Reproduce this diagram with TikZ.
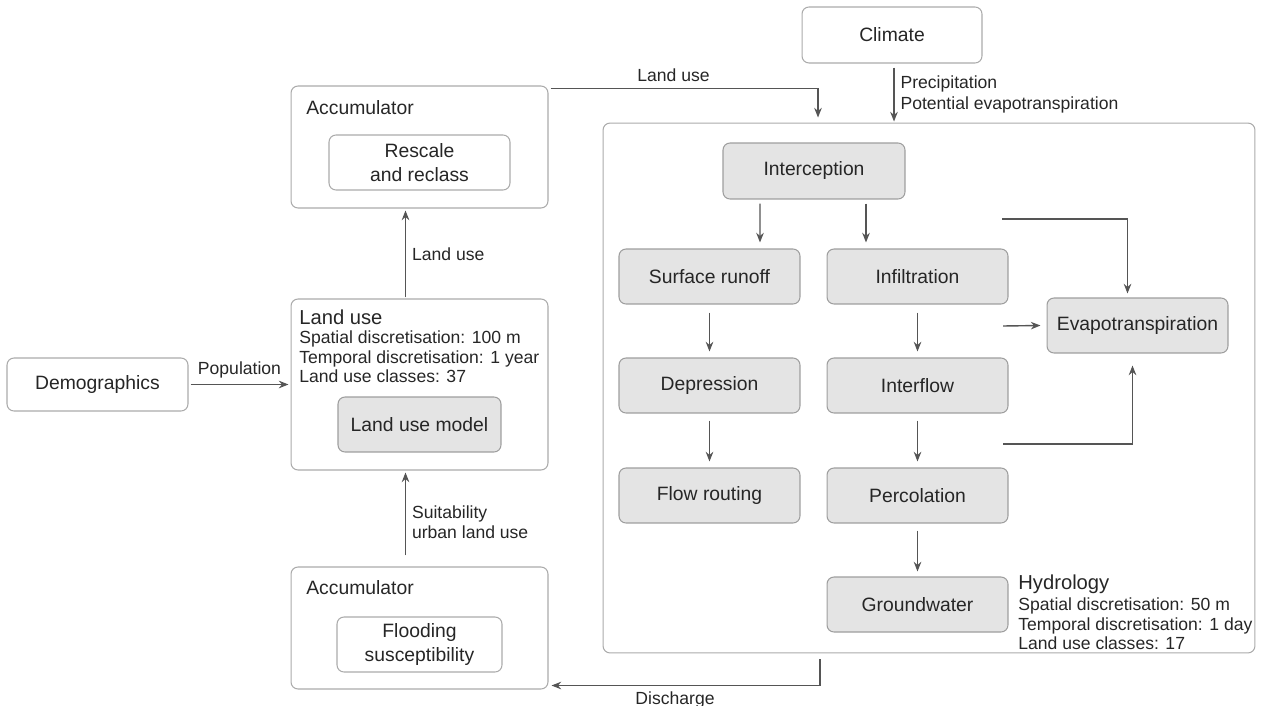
\documentclass[tikz,border=0pt]{standalone}
\usepackage{fontspec}
\setmainfont{Liberation Sans}
\usetikzlibrary{arrows.meta,calc}
\definecolor{framegray}{HTML}{ABABAB}
\definecolor{procfill}{HTML}{E4E4E4}
\definecolor{procline}{HTML}{9E9E9E}
\definecolor{linkgray}{HTML}{555555}
\definecolor{inkgray}{HTML}{262626}
\tikzset{
  outerbox/.style={draw=framegray, rounded corners=0.14cm, line width=0.6pt, inner sep=0pt},
  proc/.style={draw=procline, fill=procfill, rounded corners=0.14cm, line width=0.6pt,
    minimum width=3.62cm, minimum height=1.1cm, align=center,
    font=\fontsize{11}{13.6}\selectfont, text=inkgray},
  whitebox/.style={proc, fill=white, draw=framegray},
  arrowline/.style={->, draw=linkgray, line width=0.8pt},
  lbl/.style={font=\fontsize{10}{11.5}\selectfont, text=inkgray, align=left},
  headtext/.style={font=\fontsize{11.5}{13}\selectfont, text=inkgray, anchor=west, inner sep=0pt},
  spec/.style={font=\fontsize{10}{11.2}\selectfont, text=inkgray, anchor=west, inner sep=0pt, align=left},
}
\begin{document}
\begin{tikzpicture}[x=0.02cm, y=-0.02cm, >={Stealth[length=5.5pt,width=4.3pt]}]
\useasboundingbox (0,0) rectangle (1261,706);

% left column
\node[whitebox, minimum width=3.62cm, minimum height=1.06cm] (demo) at (97.5,384.5) {Demographics};
\node[outerbox, minimum width=5.14cm, minimum height=2.44cm] (acctop) at (419.5,147) {};
\node[headtext, font=\fontsize{11}{13}\selectfont] (acctoptxt) at (306,108) {Accumulator};
\node[whitebox] (rescale) at (419.5,162.5) {Rescale\\and reclass};
\node[outerbox, minimum width=5.14cm, minimum height=3.42cm] (luouter) at (419.5,384.5) {};
\node[headtext] (lutitle) at (299,317) {Land use};
\node[spec] (luspec) at (299,357) {Spatial discretisation: 100 m\\Temporal discretisation: 1 year\\Land use classes: 37};
\node[proc, minimum width=3.26cm] (lumodel) at (419.5,424.5) {Land use model};
\node[outerbox, minimum width=5.14cm, minimum height=2.44cm] (accbot) at (419.5,628) {};
\node[headtext, font=\fontsize{11}{13}\selectfont] (accbottxt) at (306,588) {Accumulator};
\node[whitebox, minimum width=3.3cm] (flood) at (419.5,644.5) {Flooding\\susceptibility};

% hydrology
\node[whitebox, minimum width=3.6cm, minimum height=1.12cm] (clim) at (892,35) {Climate};
\node[outerbox, minimum width=13.04cm, minimum height=10.6cm] (hydro) at (929,388) {};
\node[proc, minimum width=3.64cm, minimum height=1.12cm] (intc) at (814,171) {Interception};
\node[proc] (runoff) at (709.5,276.5) {Surface runoff};
\node[proc] (infil) at (917.5,276.5) {Infiltration};
\node[proc] (evap) at (1137.5,325.5) {Evapotranspiration};
\node[proc] (depr) at (709.5,385.5) {Depression};
\node[proc] (intf) at (917.5,385.5) {Interflow};
\node[proc] (flow) at (709.5,495.5) {Flow routing};
\node[proc] (perc) at (917.5,495.5) {Percolation};
\node[proc] (gw) at (917.5,604.5) {Groundwater};
\node[headtext] (hytitle) at (1018,584) {Hydrology};
\node[spec] (hyspec) at (1018,624) {Spatial discretisation: 50 m\\Temporal discretisation: 1 day\\Land use classes: 17};

\coordinate (et1) at (1002,219);
\coordinate (et2) at (1003,326);
\coordinate (et3) at (1003,444);

% connectors
\draw[arrowline] ($(demo.east)+(2,0)$) -- node[lbl, above] {Population} ($(luouter.west)+(-2,0)$);
\draw[arrowline] ($(luouter.north)+(-14,-1)$) -- node[lbl, right, pos=0.5] {Land use} ($(acctop.south)+(-14,2)$);
\draw[arrowline] ($(accbot.north)+(-14,-11)$) -- node[lbl, right, pos=0.4] {Suitability\\urban land use} ($(luouter.south)+(-14,2)$);
\draw[arrowline] ($(acctop.north east)+(2,3)$) -| node[lbl, above, pos=0.23] {Land use} ($(hydro.north)+(-111,-5)$);
\draw[arrowline] ($(clim.south)+(2,4)$) -- node[lbl, right] {Precipitation\\Potential evapotranspiration} ($(hydro.north)+(-35,-1)$);
\draw[arrowline] ($(hydro.south)+(-109,6)$) |- node[lbl, below, pos=0.77] {Discharge} ($(accbot.south east)+(3,-4)$);

\draw[arrowline] ($(intc.south)+(-54,4)$) -- ($(runoff.north)+(50.5,-6)$);
\draw[arrowline] ($(intc.south)+(52,4)$) -- ($(infil.north)+(-51.5,-6)$);
\draw[arrowline] ($(runoff.south)+(0,8)$) -- ($(depr.north)+(0,-6)$);
\draw[arrowline] ($(depr.south)+(0,7)$) -- ($(flow.north)+(0,-6)$);
\draw[arrowline] ($(infil.south)+(0,8)$) -- ($(intf.north)+(0,-6)$);
\draw[arrowline] ($(intf.south)+(0,7)$) -- ($(perc.north)+(0,-6)$);
\draw[arrowline] ($(perc.south)+(0,7)$) -- ($(gw.north)+(0,-5)$);

\draw[arrowline] (et1) -| ($(evap.north)+(-10,-4)$);
\draw[arrowline] (et2) -- ($(evap.west)+(-6,0)$);
\draw[arrowline] (et3) -| ($(evap.south)+(-5,12)$);
\end{tikzpicture}
\end{document}
